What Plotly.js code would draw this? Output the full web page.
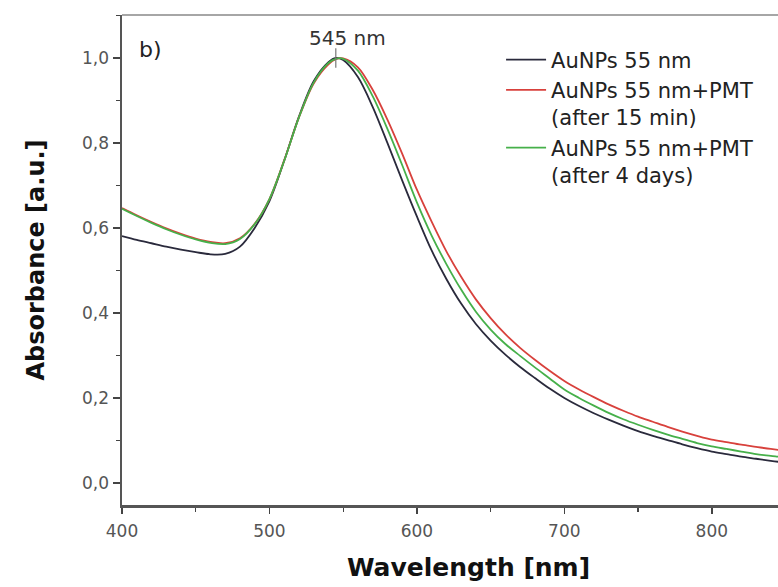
<!DOCTYPE html>
<html><head><meta charset="utf-8">
<script src="https://cdn.plot.ly/plotly-3.0.1.min.js"></script>
<style>html,body{margin:0;padding:0;overflow:hidden;background:#fff;width:778px;height:587px}#chart{width:825px;height:587px}</style>
</head><body><div id="chart"></div>
<script>
const wavelength = [400,410,420,430,440,450,460,470,480,490,500,510,520,530,540,545,550,560,570,580,590,600,610,620,630,640,650,660,670,680,690,700,710,720,730,740,750,760,770,780,790,800,810,820,830,840,850,860,870];
const auNPs = [0.581,0.572,0.564,0.556,0.549,0.543,0.538,0.539,0.556,0.600,0.663,0.758,0.862,0.945,0.990,1.000,0.995,0.955,0.885,0.800,0.712,0.627,0.547,0.480,0.422,0.374,0.335,0.302,0.273,0.247,0.222,0.200,0.181,0.164,0.149,0.135,0.122,0.111,0.101,0.091,0.082,0.074,0.068,0.062,0.057,0.052,0.048,0.045,0.042];
const auNPsPMT15min = [0.647,0.630,0.614,0.599,0.586,0.575,0.567,0.564,0.576,0.610,0.668,0.759,0.860,0.940,0.985,0.997,0.999,0.978,0.925,0.855,0.775,0.690,0.615,0.545,0.485,0.432,0.388,0.350,0.318,0.290,0.264,0.240,0.220,0.202,0.185,0.170,0.156,0.144,0.132,0.121,0.111,0.102,0.096,0.090,0.085,0.080,0.076,0.073,0.070];
const auNPsPMT4days = [0.645,0.628,0.612,0.597,0.584,0.573,0.565,0.562,0.574,0.609,0.668,0.758,0.860,0.942,0.988,0.998,0.998,0.970,0.910,0.833,0.748,0.660,0.582,0.515,0.455,0.403,0.361,0.327,0.299,0.272,0.246,0.220,0.200,0.182,0.165,0.150,0.137,0.125,0.114,0.104,0.094,0.086,0.080,0.074,0.068,0.064,0.060,0.057,0.054];
const peakWavelength = [545];
const peakAbsorbance = [1.0];
const seriesNames = ['AuNPs 55 nm','AuNPs 55 nm+PMT<br>(after 15 min)','AuNPs 55 nm+PMT<br>(after 4 days)'];
const seriesColors = ['#2a2a3c','#d8413c','#46b04a'];
const xTickVals = [400,500,600,700,800];
const yTickVals = [0,0.2,0.4,0.6,0.8,1.0];

const FONT = 'DejaVu Sans, Verdana, sans-serif';
const seriesData = [auNPs, auNPsPMT15min, auNPsPMT4days];
const traces = seriesData.map((ys, i) => ({
  type: 'scatter', mode: 'lines', x: wavelength, y: ys, name: seriesNames[i],
  line: {color: seriesColors[i], width: 1.8, shape: 'spline', smoothing: 0.9},
  hoverinfo: 'skip'
}));
traces.push({
  type: 'scatter', mode: 'markers', x: peakWavelength, y: peakAbsorbance, showlegend: false,
  marker: {symbol: 'line-ns', size: 14, line: {width: 1.2, color: '#777'}}, hoverinfo: 'skip'
});

const layout = {
  width: 825, height: 587,
  margin: {l: 122, r: 10, t: 15, b: 82, autoexpand: false},
  paper_bgcolor: '#fff', plot_bgcolor: '#fff',
  separators: ',.',
  font: {family: FONT, color: '#222'},
  showlegend: true,
  legend: {
    xref: 'paper', yref: 'paper', x: 0.547, y: 0.95, xanchor: 'left', yanchor: 'top',
    font: {family: FONT, size: 21, color: '#222'}, bgcolor: 'rgba(0,0,0,0)', borderwidth: 0,
    valign: 'top', itemwidth: 40, tracegroupgap: 3
  },
  xaxis: {
    range: [400, 870], tickvals: xTickVals, ticks: 'outside', ticklen: 6, tickwidth: 1.5, tickcolor: '#444',
    showline: true, linewidth: 2.5, linecolor: '#555', showgrid: false, zeroline: false,
    tickfont: {family: FONT, size: 17, color: '#555'}, ticklabelstandoff: 3,
    minor: {dtick: 50, tick0: 400, ticks: 'outside', ticklen: 4, tickwidth: 1.2, tickcolor: '#444', showgrid: false},
    title: {text: 'Wavelength [nm]', font: {family: FONT, size: 25, weight: 'bold', color: '#111'}, standoff: 19}
  },
  yaxis: {
    range: [-0.0518, 1.101], tickvals: yTickVals, tickformat: '.1f', ticks: 'outside', ticklen: 7, tickwidth: 1.5, tickcolor: '#444',
    showline: true, linewidth: 2.5, linecolor: '#555', showgrid: false, zeroline: false,
    tickfont: {family: FONT, size: 17, color: '#555'},
    minor: {dtick: 0.1, tick0: 0, ticks: 'outside', ticklen: 4, tickwidth: 1.2, tickcolor: '#444', showgrid: false},
    title: {text: 'Absorbance [a.u.]', font: {family: FONT, size: 24, weight: 'bold', color: '#111'}, standoff: 31}
  },
  shapes: [{type: 'line', xref: 'paper', yref: 'paper', x0: 0, x1: 1, y0: 1, y1: 1, line: {color: '#888', width: 1.5}}],
  annotations: [
    {text: '545 nm', x: peakWavelength[0], y: 1.047, xref: 'x', yref: 'y', xshift: 12, showarrow: false,
     font: {family: FONT, size: 20, color: '#333'}},
    {text: 'b)', x: 410, y: 1.02, xref: 'x', yref: 'y', xanchor: 'left', showarrow: false,
     font: {family: FONT, size: 22, color: '#222'}}
  ]
};
Plotly.newPlot('chart', traces, layout, {displayModeBar: false, staticPlot: true});
</script></body></html>
